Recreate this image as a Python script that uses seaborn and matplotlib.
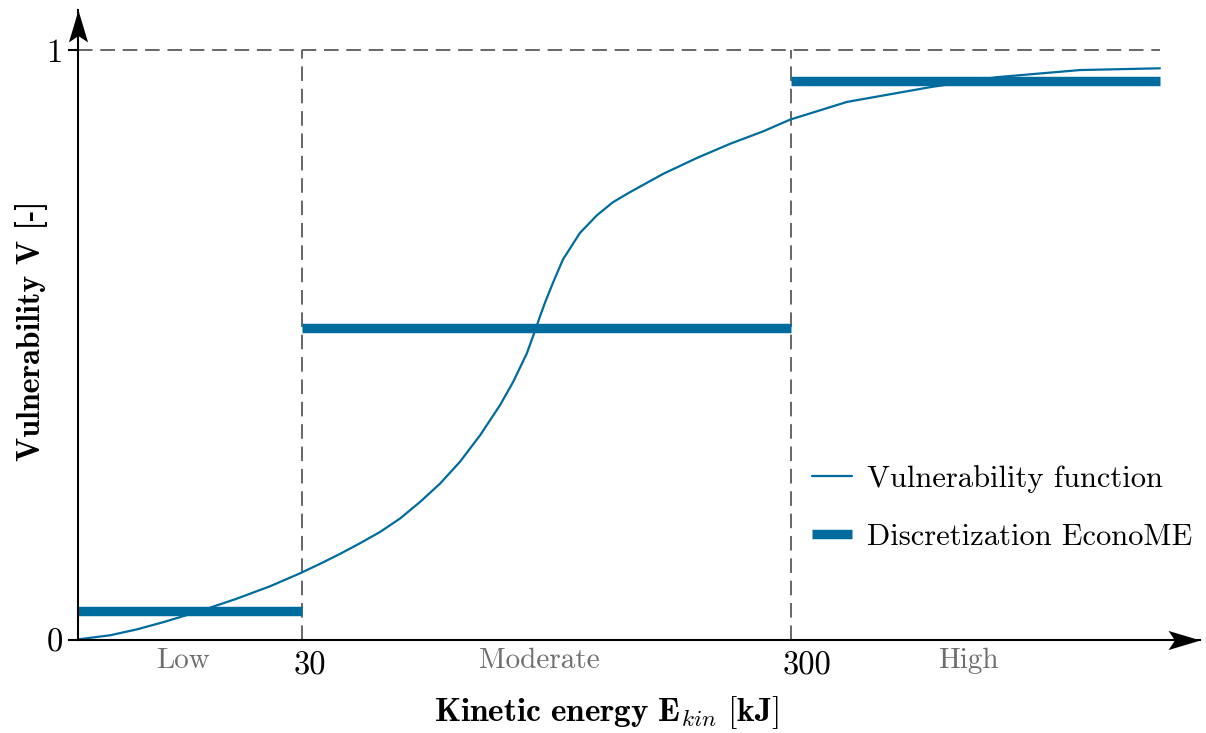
import numpy as np
import pandas as pd
import matplotlib
matplotlib.use("Agg")
import matplotlib.pyplot as plt
import seaborn as sns
from matplotlib.path import Path
from matplotlib.lines import Line2D
from matplotlib.transforms import ScaledTranslation

# ---------------- data ----------------
class_labels = ["Low", "Moderate", "High"]
class_bounds = [0.0, 1.0, 3.183, 4.830]      # positions of 0, 30, 300 and curve end
tick_pos = [1.0, 3.183]
tick_labels = ["30", "300"]
disc_values = [0.049, 0.529, 0.947]          # EconoME discretization per class

curve_x = [0.0, 0.143, 0.263, 0.388, 0.536, 0.701, 0.857, 0.991, 1.080, 1.170,
           1.259, 1.348, 1.438, 1.527, 1.616, 1.705, 1.795, 1.884, 1.942, 2.004,
           2.040, 2.063, 2.085, 2.121, 2.165, 2.241, 2.317, 2.388, 2.464, 2.612,
           2.763, 2.911, 3.058, 3.179, 3.433, 3.804, 4.103, 4.473, 4.830]
curve_y = [0.001, 0.008, 0.018, 0.031, 0.048, 0.069, 0.091, 0.113, 0.129, 0.146,
           0.164, 0.183, 0.206, 0.234, 0.265, 0.302, 0.347, 0.398, 0.437, 0.486,
           0.524, 0.549, 0.572, 0.606, 0.645, 0.690, 0.720, 0.742, 0.759, 0.790,
           0.817, 0.841, 0.862, 0.882, 0.912, 0.937, 0.954, 0.966, 0.969]

legend_labels = ["Vulnerability function", "Discretization EconoME"]

BLUE = "#006c9e"
GRAY = "#666666"

# ---------------- style ----------------
sns.set_theme(style="white")
plt.rcParams["font.family"] = ["cmr10", "DejaVu Serif"]
plt.rcParams["mathtext.fontset"] = "cm"
plt.rcParams["axes.unicode_minus"] = False
plt.rcParams["axes.formatter.use_mathtext"] = True
plt.rcParams["text.color"] = "black"

W, H = 1206, 733
fig = plt.figure(figsize=(W / 100, H / 100), dpi=100)
ax = fig.add_axes([78 / W, (H - 640) / H, (1200 - 78) / W, (640 - 10) / H])

x_max = (1200 - 78) / 224
y_max = 630 / 590

# discretization bars
seg_rows = []
for i, v in enumerate(disc_values):
    seg_rows.append({"seg": i, "x": class_bounds[i], "y": v})
    seg_rows.append({"seg": i, "x": class_bounds[i + 1], "y": v})
disc_df = pd.DataFrame(seg_rows)
sns.lineplot(data=disc_df, x="x", y="y", units="seg", estimator=None,
             color=BLUE, lw=6.8, solid_capstyle="butt", ax=ax, zorder=3)

# vulnerability curve
curve_df = pd.DataFrame({"x": curve_x, "y": curve_y})
sns.lineplot(data=curve_df, x="x", y="y", estimator=None, sort=False,
             color=BLUE, lw=1.6, ax=ax, zorder=4, solid_joinstyle="round")

# dashed guide lines
for xp in tick_pos:
    ax.plot([xp, xp], [0, 1], color=GRAY, lw=1.4, dashes=(7.5, 4), zorder=2)
ax.plot([0, class_bounds[-1]], [1, 1], color=GRAY, lw=1.4, dashes=(7.5, 4), zorder=2)

ax.set_xlim(0, x_max)
ax.set_ylim(0, y_max)

# spines
for s in ["top", "right"]:
    ax.spines[s].set_visible(False)
for s in ["left", "bottom"]:
    ax.spines[s].set_color("black")
    ax.spines[s].set_linewidth(1.5)
    ax.spines[s].set_zorder(5)

# arrowheads (stealth-like)
hx = Path([(0, 0), (-2, 0.6), (-1.6, 0), (-2, -0.6), (0, 0)],
          [Path.MOVETO, Path.LINETO, Path.LINETO, Path.LINETO, Path.CLOSEPOLY])
hy = Path([(0, 0), (0.6, -2), (0, -1.6), (-0.6, -2), (0, 0)],
          [Path.MOVETO, Path.LINETO, Path.LINETO, Path.LINETO, Path.CLOSEPOLY])
ax.plot([x_max], [0], marker=hx, markersize=46, color="black", mec="black",
        mew=0, clip_on=False, zorder=6)
ax.plot([0], [y_max], marker=hy, markersize=46, color="black", mec="black",
        mew=0, clip_on=False, zorder=6)

# ticks
ax.set_yticks([0, 1], ["0", "1"])
ax.tick_params(axis="y", left=True, direction="out", length=7, width=1.5,
               color="black", pad=4, labelsize=23.5, labelcolor="black")
ax.yaxis.get_major_ticks()[1].tick1line.set_color(GRAY)
ax.set_xticks(tick_pos, tick_labels)
ax.tick_params(axis="x", bottom=True, length=0, pad=8, labelsize=23.5,
               labelcolor="black")
shift = ScaledTranslation(-8 / 100, 0, fig.dpi_scale_trans)
for lbl in ax.get_xticklabels():
    lbl.set_horizontalalignment("left")
    lbl.set_transform(lbl.get_transform() + shift)

# class labels
for i, lab in enumerate(class_labels):
    xm = (class_bounds[i] + class_bounds[i + 1]) / 2
    ax.text(xm - 0.03, -0.036, lab, ha="center", va="center", fontsize=21,
            color="#6e6e6e", clip_on=False)

# axis labels
ax.set_xlabel(r"$\mathbf{Kinetic\ energy\ E}_{kin}\ \mathbf{[kJ]}$", fontsize=24,
              color="black")
ax.xaxis.set_label_coords((606 - 78) / 1122, -0.086)
ax.set_ylabel("Vulnerability V [-]", fontsize=23, family="cmb10", color="black")
ax.yaxis.set_label_coords(-0.027, 0.49)

# legend
handles = [Line2D([], [], color=BLUE, lw=1.6),
           Line2D([], [], color=BLUE, lw=6.8, solid_capstyle="butt")]
ax.legend(handles, legend_labels, loc="upper left",
          bbox_to_anchor=(812 / W, 1 - 465 / H), bbox_transform=fig.transFigure,
          frameon=False, fontsize=22, handlelength=1.3, handletextpad=0.5,
          labelspacing=1.0, borderpad=0, borderaxespad=0)

fig.savefig("out.png", dpi=100, facecolor="white")
